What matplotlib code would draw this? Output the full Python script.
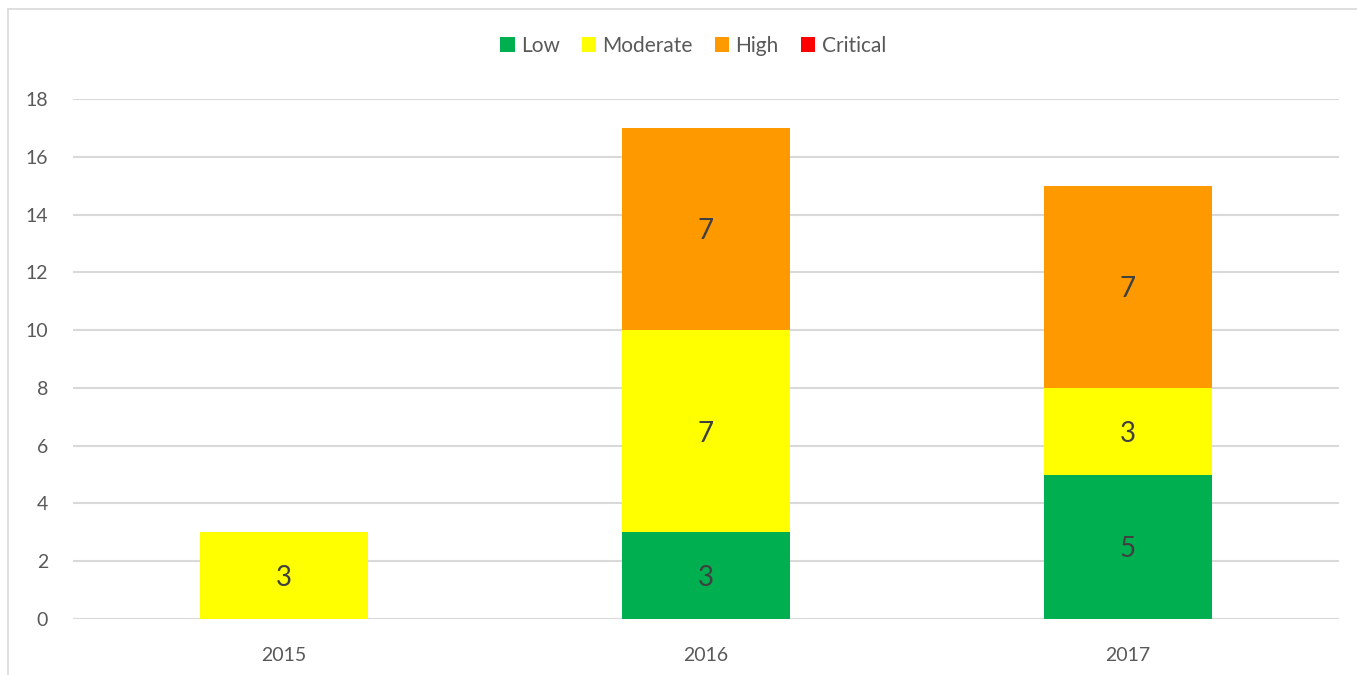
import matplotlib
matplotlib.use("Agg")
import matplotlib.pyplot as plt
from matplotlib.lines import Line2D
import numpy as np

years = ["2015", "2016", "2017"]
low = [0, 3, 5]
moderate = [3, 7, 3]
high = [0, 7, 7]
critical = [0, 0, 0]

series = [("Low", low, "#00b050"), ("Moderate", moderate, "#ffff00"),
          ("High", high, "#ff9900"), ("Critical", critical, "#ff0000")]

plt.rcParams['font.family'] = ['Lato', 'DejaVu Sans']
W, H = 1357, 675
fig = plt.figure(figsize=(W/100, H/100), dpi=100)
ax = fig.add_axes([73/W, 1-619/H, (1339-73)/W, (619-99)/H])

x = np.arange(len(years))
bottom = np.zeros(len(years))
handles = []
for name, vals, col in series:
    vals = np.array(vals, dtype=float)
    bars = ax.bar(x, vals, 0.4, bottom=bottom, color=col, label=name, linewidth=0, zorder=3)
    for xi, v, b in zip(x, vals, bottom):
        if v > 0:
            ax.text(xi, b + v/2 - 0.08, f"{int(v)}", ha='center', va='center', fontsize=20,
                    color='#404040', zorder=4)
    bottom += vals
    handles.append(bars)

ax.set_xlim(-0.5, 2.5)
ax.set_ylim(0, 18)
ax.set_yticks(range(0, 19, 2))
ax.set_xticks(x)
ax.set_xticklabels(years)
ax.grid(axis='y', color='#d9d9d9', linewidth=1.5, zorder=0)
ax.set_axisbelow(True)
for s in ax.spines.values():
    s.set_visible(False)
ax.tick_params(axis='both', length=0, labelsize=14, colors='#595959')
ax.tick_params(axis='y', pad=18)
ax.tick_params(axis='x', pad=20)

fig.legend(handles=handles, loc='center', bbox_to_anchor=(693/W, 1-46/H), ncol=4,
           frameon=False, fontsize=15, labelcolor='#595959', handlelength=0.7,
           handleheight=0.7, handletextpad=0.3, columnspacing=1.05)

fig.add_artist(Line2D([8/W, 1], [1-9/H, 1-9/H], color='#d9d9d9', linewidth=1.2))
fig.add_artist(Line2D([8/W, 8/W], [0, 1-9/H], color='#d9d9d9', linewidth=1.2))

fig.savefig("out.png", dpi=100, facecolor='white')
